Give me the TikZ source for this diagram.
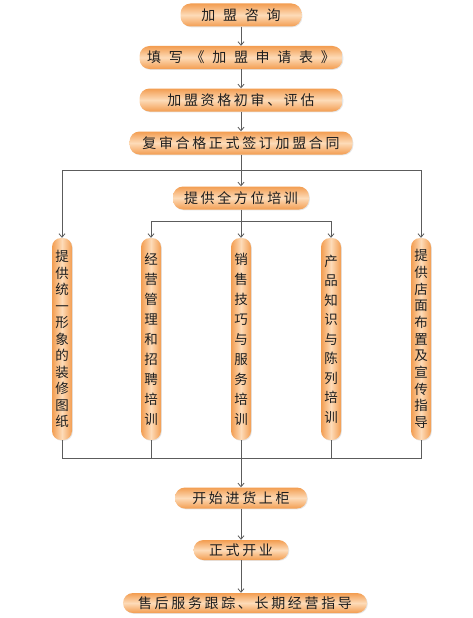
\documentclass[tikz,border=0pt]{standalone}
\usepackage{fontspec}
\setmainfont{Noto Sans CJK SC}
\usetikzlibrary{arrows.meta,shadows}
\definecolor{boxedge}{HTML}{F39D50}
\definecolor{boxmid}{HTML}{FDDBB8}
\definecolor{linkgray}{HTML}{5C5C5C}
\definecolor{textdark}{HTML}{1E1E1E}

\begin{document}
\begin{tikzpicture}[x=1pt, y=-1pt,
  hbox/.style={rectangle, rounded corners=10pt, top color=boxedge, bottom color=boxedge,
    middle color=boxmid, minimum width=#1, minimum height=23pt, inner sep=0pt, text=textdark,
    font=\fontsize{14}{14}\selectfont\addfontfeature{LetterSpace=19},
    drop shadow={opacity=0.2, shadow xshift=0.8pt, shadow yshift=-0.8pt}},
  wide/.style={font=\fontsize{14}{14}\selectfont\addfontfeature{LetterSpace=55}},
  vbox/.style={rectangle, rounded corners=9pt, left color=boxedge, right color=boxedge,
    middle color=boxmid, minimum width=20pt, minimum height=202pt, inner sep=0pt, align=center,
    text=textdark, font=\fontsize{13.5}{#1}\selectfont,
    drop shadow={opacity=0.2, shadow xshift=0.8pt, shadow yshift=-0.8pt}},
  link/.style={linkgray, line width=0.8pt},
  arrow/.style={link, -{Straight Barb[length=3.5pt, width=6pt]}}]
  \useasboundingbox (0,0) rectangle (472,618);
  % application steps
  \node[hbox=121pt, wide] (zixun) at (241,15) {加盟咨询};
  \node[hbox=203pt, wide] (shenqing) at (241,57.5) {填写《加盟申请表》};
  \node[hbox=203pt] (chushen) at (241,100) {加盟资格初审、评估};
  \node[hbox=223pt] (qianyue) at (241,143) {复审合格正式签订加盟合同};
  \node[hbox=136pt] (peixun) at (241,198) {提供全方位培训};
  % support columns
  \node[vbox=16.5pt] (tuzhi) at (62,339) {提\\供\\统\\一\\形\\象\\的\\装\\修\\图\\纸};
  \node[vbox=20pt] (jingying) at (151,339) {经\\营\\管\\理\\和\\招\\聘\\培\\训};
  \node[vbox=20pt] (xiaoshou) at (241,339) {销\\售\\技\\巧\\与\\服\\务\\培\\训};
  \node[vbox=19.5pt] (chanpin) at (331,339) {产\\品\\知\\识\\与\\陈\\列\\培\\训};
  \node[vbox=16.7pt] (dianmian) at (421,339) {提\\供\\店\\面\\布\\置\\及\\宣\\传\\指\\导};
  % opening
  \node[hbox=132pt, minimum height=21pt] (jinhuo) at (241,498) {开始进货上柜};
  \node[hbox=95pt, minimum height=20pt] (kaiye) at (241,550) {正式开业};
  \node[hbox=244pt, minimum height=20pt] (shouhou) at (245,603) {售后服务跟踪、长期经营指导};

  \coordinate (fenzhi) at (241,170);
  \coordinate (peixunfen) at (241,221);
  \coordinate (huiji) at (241,458);

  \draw[arrow] (zixun) -- (shenqing);
  \draw[arrow] (shenqing) -- (chushen);
  \draw[arrow] (chushen) -- (qianyue);
  \draw[link] (qianyue) -- (fenzhi);
  \draw[arrow] (fenzhi) -- (peixun);
  \draw[arrow] (fenzhi) -| (tuzhi);
  \draw[arrow] (fenzhi) -| (dianmian);
  \draw[link] (peixun) -- (peixunfen);
  \draw[arrow] (peixunfen) -| (jingying);
  \draw[arrow] (peixunfen) -- (xiaoshou);
  \draw[arrow] (peixunfen) -| (chanpin);
  \draw[link] (tuzhi) |- (huiji);
  \draw[link] (jingying) |- (huiji);
  \draw[link] (xiaoshou) -- (huiji);
  \draw[link] (chanpin) |- (huiji);
  \draw[link] (dianmian) |- (huiji);
  \draw[arrow] (huiji) -- (jinhuo);
  \draw[arrow] (jinhuo) -- (kaiye);
  \draw[arrow] (kaiye.south) -- (kaiye.south |- shouhou.north);
\end{tikzpicture}
\end{document}
